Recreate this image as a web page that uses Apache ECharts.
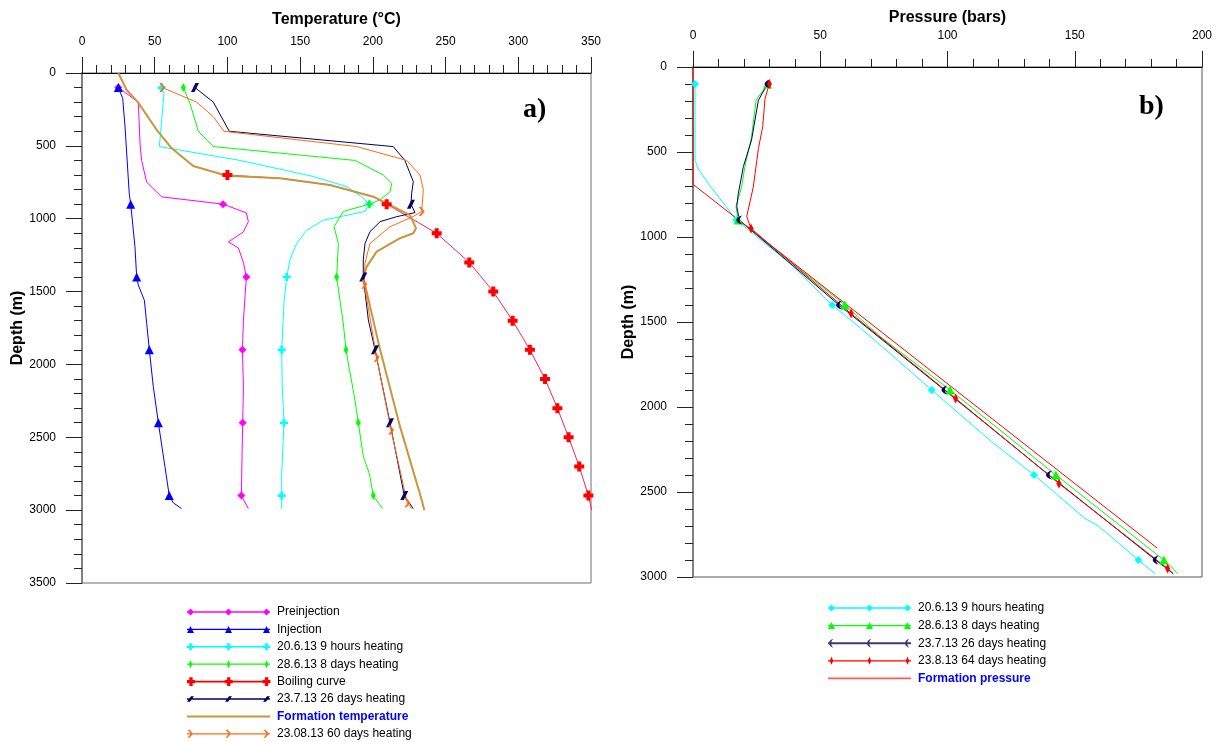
<!DOCTYPE html>
<html><head><meta charset="utf-8">
<script src="https://cdn.jsdelivr.net/npm/echarts@6/dist/echarts.min.js"></script>
<style>html,body{margin:0;padding:0;background:#fff}#c{width:1220px;height:742px}</style>
</head><body><div id="c"></div>
<script>
// ---------- Axis ticks ----------
const tempTicks = [0, 50, 100, 150, 200, 250, 300, 350];
const depthTicksA = [0, 500, 1000, 1500, 2000, 2500, 3000, 3500];
const pressTicks = [0, 50, 100, 150, 200];
const depthTicksB = [0, 500, 1000, 1500, 2000, 2500, 3000];

// ---------- Panel a: temperature (°C) vs depth (m) ----------
const preDepth = [100,200,500,600,750,850,900,960,1020,1090,1160,1200,1300,1400,1550,1700,1900,2150,2400,2650,2900,2990];
const preTemp  = [25,38.7,40,41,44.5,54.8,97,113,114.4,111,100.6,107.5,111,113,112,111,110.3,111,110.5,110,109.6,114.4];
const preMarks = [100,900,1400,1900,2400,2900];

const injDepth = [100,175,370,830,900,1190,1400,1455,1560,1720,1900,2150,2400,2700,2900,2950,2990];
const injTemp  = [25,28,29.6,32.5,33.5,36.4,37.6,38.7,42.9,44.5,46.3,49,52.5,57,60,62.8,68.5];
const injMarks = [100,900,1400,1900,2400,2900];

const h9Depth = [100,140,505,600,710,780,850,900,950,1010,1080,1170,1280,1400,1560,1900,2150,2400,2750,2900,2990];
const h9Temp  = [54.8,56.4,53.2,108.7,159,182,192.3,197.6,194.6,166,154.5,147.6,143,140.8,139,137.3,137.7,138.9,137.3,137.3,137.3];
const h9Marks = [100,900,1400,1900,2400,2900];

const d8Depth = [100,210,400,505,600,700,757,815,870,900,950,1055,1170,1400,1560,1720,1900,2245,2400,2630,2750,2900,2990];
const d8Temp  = [69.7,74.3,80,90.3,187.7,207.2,213,211.8,205,197.6,179.7,173.3,176.3,175.1,177.4,179.7,181.5,187.7,190,193.4,197.6,200.3,206.7];
const d8Marks = [100,900,1400,1900,2400,2900];

const boilDepth = [700,723,769,849,900,1000,1100,1300,1500,1700,1900,2100,2300,2500,2700,2900,3000];
const boilTemp  = [100,136.2,170.5,200.3,209.5,226.7,243.9,266.3,282.8,296.1,308,318.4,326.9,334.6,341.9,348.2,350.5];
const boilMarks = [700,900,1100,1300,1500,1700,1900,2100,2300,2500,2700,2900];

const d26Depth = [100,200,400,505,600,745,825,900,958,986,1020,1089,1170,1283,1400,1695,1900,2400,2900,2990];
const d26Temp  = [77.7,90.3,101.3,214,222,227.8,226.7,226.2,229,216.4,205,198,194.6,193.4,193.4,196.9,201.5,211.8,221.6,227.8];
const d26Marks = [100,900,1400,1900,2400,2900];

const formDepth = [0,117,203,391,517,638,705,723,769,849,883,975,1066,1100,1134,1226,1329,1400,1900,2427,2930,3000];
const formTemp  = [25,30.7,38.7,51.4,61.7,76.5,99.5,136.2,170.5,200.3,207.2,225.5,229.7,227.8,218.7,202.6,195.8,193.4,205,218.7,233.6,235.4];

const d60Depth = [100,200,300,400,505,600,700,800,950,985,1055,1170,1305,1450,1950,2450,2950,2990];
const d60Temp  = [55.2,78.9,90.3,97.6,188.9,223.3,232.4,234.7,233.6,227.8,211.8,198,194.6,194.1,202.6,212.5,223.7,226.7];
const d60Marks = [100,950,1450,1950,2450,2950];

// ---------- Panel b: pressure (bars) vs depth (m) ----------
const pH9Depth = [100,550,600,700,800,900,1155,1400,1500,1685,1900,2205,2400,2655,2700,2900,2980];
const pH9Press = [0.8,0.8,2.1,6.7,11.9,17,38.1,54.7,63,77.4,93.8,117.4,134,154,159.3,175,181.5];
const pH9Marks = [100,900,1400,1900,2400,2900];

const pD8Depth = [100,195,410,585,705,820,900,1400,1585,1900,2400,2900,2940,2980];
const pD8Press = [29.3,24.8,23,20.4,19.1,16.9,17.8,59.7,73.5,101,142.6,185,188,190.3];
const pD8Marks = [100,900,1400,1900,2400,2900];

const pD26Depth = [100,195,430,585,745,820,900,1400,1900,2400,2900,2980];
const pD26Press = [29.3,25.7,23,19.8,17.8,17.2,18.2,57.4,98.8,139.9,181.8,188.7];
const pD26Marks = [100,900,1400,1900,2400,2900];

const pD64Depth = [100,185,350,480,705,880,950,1450,1950,2450,2950,2980];
const pD64Press = [30,28.3,27.4,25.7,23.7,21.1,22.8,62.1,103.2,143.8,186.5,188.7];
const pD64Marks = [100,950,1450,1950,2450,2950];

const fpDepth = [0,690,2830];
const fpPress = [0,0,182.4];

// ---------- Names ----------
const namesA = ['Preinjection','Injection','20.6.13 9 hours heating','28.6.13 8 days heating','Boiling curve','23.7.13 26 days heating','Formation temperature','23.08.13 60 days heating'];
const namesB = ['20.6.13 9 hours heating','28.6.13 8 days heating','23.7.13 26 days heating','23.8.13 64 days heating','Formation pressure'];

// ---------- Symbols ----------
const SYM = {
  plus: 'path://M3,0H6V3H9V6H6V9H3V6H0V3H3Z',
  bigPlus: 'path://M3,0H7V3H10V7H7V10H3V7H0V3H3Z',
  slash: 'path://M0,10L5,0H9L4,10Z',
  chevron: 'path://M0,0H3L8,5L3,10H0L5,5Z',
  crescent: 'path://M6,10C-1,8 -1,2 6,0C3,3 3,7 6,10Z'
};
// legend icon shapes (centre cx, box height 10)
const LI = {
  diamond: c => `M${c-3.5},5L${c},1.5L${c+3.5},5L${c},8.5Z`,
  tri: c => `M${c-3.5},8.5L${c},1.5L${c+3.5},8.5Z`,
  plus: c => `M${c-1.3},1.5H${c+1.3}V3.7H${c+3.5}V6.3H${c+1.3}V8.5H${c-1.3}V6.3H${c-3.5}V3.7H${c-1.3}Z`,
  bigPlus: c => `M${c-1.7},0.6H${c+1.7}V3.3H${c+4}V6.7H${c+1.7}V9.4H${c-1.7}V6.7H${c-4}V3.3H${c-1.7}Z`,
  thin: c => `M${c-1.8},5L${c},1L${c+1.8},5L${c},9Z`,
  slash: c => `M${c-3.5},7.8L${c+0.5},2.2H${c+3.5}L${c-0.5},7.8Z`,
  chevron: c => `M${c-3},1H${c-1}L${c+2.5},5L${c-1},9H${c-3}L${c+0.5},5Z`,
  crescent: c => `M${c+2},9.5C${c-4},8 ${c-4},2 ${c+2},0.5C${c-1},2.5 ${c-1},7.5 ${c+2},9.5Z`
};
function legendIcon(shape, lw) {
  let p = 'M0,0L0.01,0L0,0.01Z M85,10L84.99,10L85,9.99Z';
  if (lw) p += ` M0,${5-lw/2}H83V${5+lw/2}H0Z`;
  if (shape) [3.5, 41.5, 79.5].forEach(c => { p += ' ' + shape(c); });
  return 'path://' + p;
}

function series(name, xs, ds, marks, color, sym, size, extra) {
  const set = new Set(marks || []);
  return Object.assign({
    name: name, type: 'line',
    data: ds.map((d, i) => [xs[i], d]),
    showSymbol: true, showAllSymbol: true,
    symbol: sym || 'none',
    symbolSize: v => set.has(v[1]) ? size : 0,
    lineStyle: { width: 1, color: color },
    itemStyle: { color: color, borderWidth: 0 },
    animation: false, silent: true
  }, extra || {});
}

const FONT = 'Liberation Sans, Arial, sans-serif';
const plain = v => String(v);

function xAxisCfg(grid, ticks, name, nameGap) {
  return {
    type: 'value', gridIndex: grid, position: 'top',
    min: ticks[0], max: ticks[ticks.length - 1], interval: ticks[1] - ticks[0],
    name: name, nameLocation: 'middle', nameGap: nameGap,
    nameTextStyle: { fontFamily: FONT, fontSize: 16, fontWeight: 'bold', color: '#000' },
    axisLine: { show: true, onZero: false, lineStyle: { color: '#000', width: 1 } },
    axisTick: { show: true, length: 16, lineStyle: { color: '#222', width: 1 } },
    minorTick: { show: true, splitNumber: 5, length: 8, lineStyle: { color: '#222', width: 1 } },
    axisLabel: { margin: 25, fontFamily: FONT, fontSize: 12, color: '#000', formatter: plain },
    splitLine: { show: false }
  };
}
function yAxisCfg(grid, ticks, nameGap) {
  return {
    type: 'value', gridIndex: grid, inverse: true,
    min: ticks[0], max: ticks[ticks.length - 1], interval: ticks[1] - ticks[0],
    name: 'Depth (m)', nameLocation: 'middle', nameGap: nameGap,
    nameTextStyle: { fontFamily: FONT, fontSize: 16, fontWeight: 'bold', color: '#000' },
    axisLine: { show: true, onZero: false, lineStyle: { color: '#808080', width: 2 } },
    axisTick: { show: true, length: 16, lineStyle: { color: '#222', width: 1 } },
    minorTick: { show: true, splitNumber: 5, length: 8, lineStyle: { color: '#222', width: 1 } },
    axisLabel: { margin: 26, fontFamily: FONT, fontSize: 12, color: '#000', formatter: plain },
    splitLine: { show: false }
  };
}

const option = {
  backgroundColor: '#fff',
  animation: false,
  textStyle: { fontFamily: FONT },
  grid: [
    { left: 82, top: 73, width: 509, height: 510, show: true, borderColor: '#6e6e6e', borderWidth: 1, backgroundColor: 'transparent' },
    { left: 693, top: 67, width: 509, height: 510, show: true, borderColor: '#555', borderWidth: 1, backgroundColor: 'transparent' }
  ],
  xAxis: [ xAxisCfg(0, tempTicks, 'Temperature (°C)', 45), xAxisCfg(1, pressTicks, 'Pressure (bars)', 39) ],
  yAxis: [ yAxisCfg(0, depthTicksA, 52), yAxisCfg(1, depthTicksB, 54) ],
  legend: [
    {
      orient: 'vertical', left: 187, top: 606, height: 140, padding: 0,
      itemWidth: 85, itemHeight: 10, itemGap: 5.4,
      selectedMode: false, symbolKeepAspect: false,
      itemStyle: { borderWidth: 0 },
      textStyle: { fontFamily: FONT, fontSize: 12, color: '#000' },
      data: [
        { name: namesA[0], icon: legendIcon(LI.diamond, 1.6) },
        { name: namesA[1], icon: legendIcon(LI.tri, 1.2) },
        { name: namesA[2], icon: legendIcon(LI.plus, 1.6) },
        { name: namesA[3], icon: legendIcon(LI.thin, 1.2) },
        { name: namesA[4], icon: legendIcon(LI.bigPlus, 1.6) },
        { name: namesA[5], icon: legendIcon(LI.slash, 1.4) },
        { name: namesA[6], icon: legendIcon(null, 2), textStyle: { color: '#0000ff', fontWeight: 'bold' } },
        { name: namesA[7], icon: legendIcon(LI.chevron, 1.2) }
      ]
    },
    {
      orient: 'vertical', left: 828, top: 602, height: 100, padding: 0,
      itemWidth: 85, itemHeight: 10, itemGap: 5.6,
      selectedMode: false, symbolKeepAspect: false,
      itemStyle: { borderWidth: 0 },
      textStyle: { fontFamily: FONT, fontSize: 12, color: '#000' },
      data: [
        { name: namesB[0], icon: legendIcon(LI.diamond, 1.6) },
        { name: namesB[1], icon: legendIcon(LI.tri, 1.2) },
        { name: namesB[2], icon: legendIcon(LI.crescent, 2), itemStyle: { color: '#3a3a7a' } },
        { name: namesB[3], icon: legendIcon(LI.thin, 1.2) },
        { name: namesB[4], icon: legendIcon(null, 1.6), itemStyle: { color: '#ff5a5a' }, textStyle: { color: '#0000ff', fontWeight: 'bold' } }
      ]
    }
  ],
  graphic: [
    { type: 'text', left: 523, top: 96, style: { text: 'a)', fontFamily: 'Liberation Serif, Times New Roman, serif', fontSize: 28, fontWeight: 'bold', fill: '#000' } },
    { type: 'text', left: 1139, top: 93, style: { text: 'b)', fontFamily: 'Liberation Serif, Times New Roman, serif', fontSize: 28, fontWeight: 'bold', fill: '#000' } }
  ],
  series: [
    series(namesA[0], preTemp, preDepth, preMarks, '#ff00ff', 'diamond', 8),
    series(namesA[1], injTemp, injDepth, injMarks, '#0000ff', 'triangle', 9),
    series(namesA[2], h9Temp, h9Depth, h9Marks, '#00ffff', SYM.plus, 8),
    series(namesA[3], d8Temp, d8Depth, d8Marks, '#00ff00', 'diamond', [5, 9]),
    series(namesA[4], boilTemp, boilDepth, boilMarks, '#ff0000', SYM.bigPlus, 10, { lineStyle: { width: 1, color: '#ff1f60' } }),
    series(namesA[5], d26Temp, d26Depth, d26Marks, '#000066', SYM.slash, [8, 9]),
    series(namesA[6], formTemp, formDepth, [], '#c8963c', 'none', 0, { lineStyle: { width: 2, color: '#c8963c' } }),
    series(namesA[7], d60Temp, d60Depth, d60Marks, '#ff6a10', SYM.chevron, [6, 9]),

    series(namesB[0], pH9Press, pH9Depth, pH9Marks, '#00ffff', 'diamond', 8, { xAxisIndex: 1, yAxisIndex: 1 }),
    series(namesB[1], pD8Press, pD8Depth, pD8Marks, '#00ff00', 'triangle', 9, { xAxisIndex: 1, yAxisIndex: 1 }),
    series(namesB[2], pD26Press, pD26Depth, pD26Marks, '#000066', SYM.crescent, [6, 9], { xAxisIndex: 1, yAxisIndex: 1 }),
    series(namesB[3], pD64Press, pD64Depth, pD64Marks, '#ff0000', 'diamond', [5, 10], { xAxisIndex: 1, yAxisIndex: 1 }),
    series(namesB[4], fpPress, fpDepth, [], '#ff0000', 'none', 0, { xAxisIndex: 1, yAxisIndex: 1, lineStyle: { width: 1, color: '#ff0000' } })
  ]
};

const chart = echarts.init(document.getElementById('c'), null, { renderer: 'canvas', width: 1220, height: 742 });
chart.setOption(option);
</script>
</body></html>
